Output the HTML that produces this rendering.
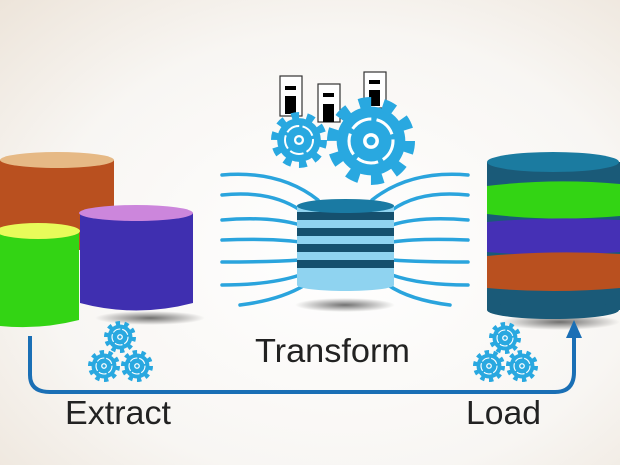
<!DOCTYPE html>
<html><head><meta charset="utf-8"><style>
html,body{margin:0;padding:0;width:620px;height:465px;overflow:hidden}
svg{display:block}
text{font-family:"Liberation Sans",sans-serif;fill:#222}
</style></head><body>
<svg width="620" height="465" viewBox="0 0 620 465" xmlns="http://www.w3.org/2000/svg">
<defs>
<radialGradient id="bg" cx="0.55" cy="0.55" r="0.8">
<stop offset="0" stop-color="#ffffff"/><stop offset="0.6" stop-color="#f8f6f3"/><stop offset="1" stop-color="#ece3d8"/>
</radialGradient>
<radialGradient id="sh" cx="0.5" cy="0.5" r="0.5">
<stop offset="0" stop-color="#000" stop-opacity="0.55"/><stop offset="1" stop-color="#000" stop-opacity="0"/>
</radialGradient>
<g id="gear">
<circle r="0.78" fill="#29a8e0"/>
<circle r="0.86" fill="none" stroke="#29a8e0" stroke-width="0.28" stroke-dasharray="0.27 0.27"/>
<circle r="0.5" fill="none" stroke="#fff" stroke-width="0.07" stroke-dasharray="0.5 0.12"/>
<circle r="0.18" fill="#fff"/>
<circle r="0.1" fill="#29a8e0"/>
</g>
</defs>
<rect width="620" height="465" fill="url(#bg)"/>

<ellipse cx="150" cy="318" rx="55" ry="7" fill="url(#sh)"/>
<ellipse cx="345" cy="305" rx="50" ry="7" fill="url(#sh)"/>
<ellipse cx="560" cy="322" rx="60" ry="8" fill="url(#sh)"/>

<rect x="0" y="160" width="114" height="90" fill="#b9501f"/>
<ellipse cx="57" cy="160" rx="57" ry="8" fill="#e6b985"/>
<path d="M0 230 H79 V320 Q40 330 0 326 Z" fill="#33d414"/>
<ellipse cx="38" cy="231" rx="42" ry="8" fill="#e8fb5a"/>
<path d="M80 213 H193 V303 Q136 318 80 303 Z" fill="#3f2fb0"/>
<ellipse cx="136" cy="213" rx="57" ry="8" fill="#cc86dc"/>

<g fill="none" stroke="#2aa4dd" stroke-width="3.5" stroke-linecap="round">
<path d="M222 175 Q280 170 318 200"/>
<path d="M222 195 Q270 190 300 210"/>
<path d="M222 220 Q270 216 300 225"/>
<path d="M222 240 Q270 238 300 242"/>
<path d="M222 262 Q270 262 300 260"/>
<path d="M222 285 Q270 285 300 275"/>
<path d="M240 305 Q280 300 305 285"/>
<path d="M468 175 Q410 170 372 200"/>
<path d="M468 195 Q420 190 392 210"/>
<path d="M468 220 Q420 216 392 225"/>
<path d="M468 240 Q420 238 392 242"/>
<path d="M468 262 Q420 262 392 260"/>
<path d="M468 285 Q420 285 392 275"/>
<path d="M450 305 Q410 300 388 285"/>
</g>

<rect x="297" y="205" width="97" height="80" fill="#8fd3f0"/>
<g fill="#15506e">
<rect x="297" y="212" width="97" height="8"/><rect x="297" y="228" width="97" height="8"/>
<rect x="297" y="244" width="97" height="8"/><rect x="297" y="260" width="97" height="8"/>
</g>
<ellipse cx="345.5" cy="285" rx="48.5" ry="6" fill="#8fd3f0"/>
<ellipse cx="345.5" cy="206" rx="48.5" ry="7" fill="#1a7aa3"/>

<g stroke="#333" stroke-width="1.2" fill="#fff">
<rect x="280" y="76" width="22" height="40"/><rect x="318" y="84" width="22" height="38"/><rect x="364" y="72" width="22" height="36"/>
</g>
<g fill="#000">
<rect x="285" y="86" width="11" height="4"/><rect x="285" y="96" width="11" height="18"/>
<rect x="323" y="93" width="11" height="4"/><rect x="323" y="104" width="11" height="18"/>
<rect x="369" y="80" width="11" height="4"/><rect x="369" y="90" width="11" height="16"/>
</g>
<use href="#gear" transform="translate(299,140) scale(28)"/>
<use href="#gear" transform="translate(371,141) scale(44)"/>

<rect x="487" y="162" width="133" height="148" fill="#1a5a78"/>
<ellipse cx="553" cy="310" rx="66" ry="9" fill="#1a5a78"/>
<path d="M487 186 Q553 178 620 184 V216 Q553 222 487 214 Z" fill="#33d414"/>
<path d="M487 222 Q553 216 620 220 V252 Q553 258 487 252 Z" fill="#4530b5"/>
<path d="M487 256 Q553 250 620 254 V288 Q553 294 487 288 Z" fill="#b9501f"/>
<ellipse cx="553" cy="162" rx="66" ry="10" fill="#1b7ba0"/>

<path d="M30 336 V375 Q30 392 50 392 H555 Q574 392 574 372 V335" fill="none" stroke="#1a6fb5" stroke-width="4"/>
<path d="M566 338 L574 320 L582 338 Z" fill="#1a6fb5"/>

<use href="#gear" transform="translate(120,337) scale(16)"/>
<use href="#gear" transform="translate(104,366) scale(16)"/>
<use href="#gear" transform="translate(137,366) scale(16)"/>
<use href="#gear" transform="translate(505,338) scale(16)"/>
<use href="#gear" transform="translate(489,366) scale(16)"/>
<use href="#gear" transform="translate(522,366) scale(16)"/>

<text x="255" y="362" font-size="33" textLength="155" lengthAdjust="spacingAndGlyphs">Transform</text>
<text x="65" y="424" font-size="33" textLength="106" lengthAdjust="spacingAndGlyphs">Extract</text>
<text x="466" y="424" font-size="33" textLength="75" lengthAdjust="spacingAndGlyphs">Load</text>
</svg>
</body></html>
